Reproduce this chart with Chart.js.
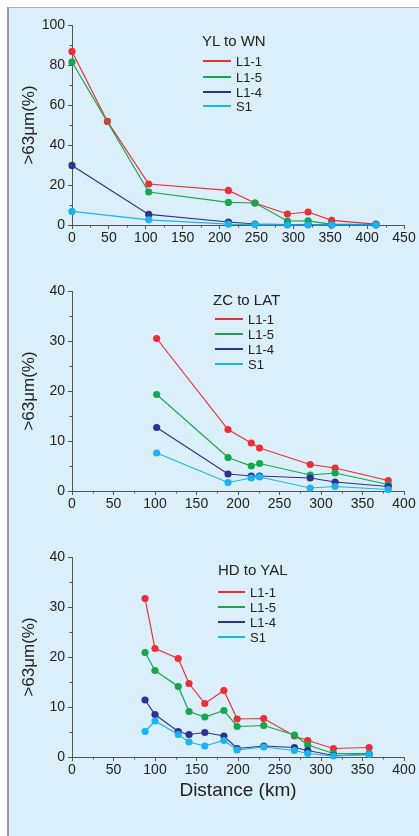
<!DOCTYPE html>
<html>
<head>
<meta charset="utf-8">
<script src="https://cdn.jsdelivr.net/npm/chart.js@4.4.1/dist/chart.umd.min.js"></script>
<style>
  body { margin: 0; width: 419px; height: 836px; background: #fff; position: relative; overflow: hidden; font-family: "Liberation Sans", Arial, sans-serif; }
  .frame { position: absolute; left: 7px; top: 7px; right: 0; bottom: 0; background: #dbeffa; border-left: 2px solid #9c9c9c; border-top: 1px solid #b0b0b0; }
  canvas { position: absolute; left: 0; }
  .legend { position: absolute; color: #222; }
  .legend .ttl { position: absolute; font-size: 15px; white-space: nowrap; transform: translateY(-50%); }
  .legend .row { position: absolute; white-space: nowrap; font-size: 13px; transform: translateY(-50%); }
  .legend .swatch { position: absolute; height: 2px; }
</style>
</head>
<body>
<div class="frame"></div>
<canvas id="c1" style="top:0px" width="419" height="255"></canvas>
<canvas id="c2" style="top:266px" width="419" height="255"></canvas>
<canvas id="c3" style="top:532px" width="419" height="300"></canvas>
<div id="legends"></div>
<script>
// series names and colours
const seriesNames = ["L1-1", "L1-5", "L1-4", "S1"];
const seriesColors = ["#ec2f36", "#17a64c", "#2e3192", "#1bb4ec"];

// YL to WN
const ylDist = [0, 48, 104, 212, 248, 292, 320, 352, 412];
const ylL11 = [86.8, 51.8, 20.5, 17.3, 11.0, 5.5, 6.5, 2.3, 0.4];
const ylL15 = [81.5, null, 16.5, 11.3, 11.0, 2.0, 2.1, 0.3, 0.3];
const ylL14 = [29.8, null, 5.3, 1.5, 0.5, 0.2, 0.2, 0.1, 0.1];
const ylS1 = [6.8, null, 2.6, 0.4, 0.2, 0.1, 0.1, 0.1, 0.1];

// ZC to LAT
const zcDist = [102, 188, 216, 226, 287, 317, 381];
const zcL11 = [30.5, 12.3, 9.6, 8.6, 5.3, 4.6, 2.1];
const zcL15 = [19.3, 6.7, 5.0, 5.5, 3.2, 3.6, 1.3];
const zcL14 = [12.7, 3.4, 3.0, 3.0, 2.6, 1.8, 0.9];
const zcS1 = [7.6, 1.7, 2.6, 2.8, 0.6, 0.9, 0.3];

// HD to YAL
const hdDist = [88, 100, 128, 141, 160, 183, 199, 231, 268, 284, 315, 358];
const hdL11 = [31.7, 21.7, 19.7, 14.7, 10.7, 13.3, 7.6, 7.7, 4.2, 3.3, 1.7, 1.9];
const hdL15 = [20.9, 17.3, 14.1, 9.1, 8.0, 9.3, 6.1, 6.3, 4.4, 2.4, 0.7, 0.7];
const hdL14 = [11.4, 8.5, 5.1, 4.5, 4.9, 4.2, 1.7, 2.2, 1.9, 1.3, 0.3, 0.5];
const hdS1 = [5.1, 7.2, 4.5, 3.0, 2.2, 3.3, 1.4, 2.0, 1.3, 0.7, 0.2, 0.5];

Chart.defaults.font.family = '"Liberation Sans", Arial, sans-serif';
Chart.defaults.color = "#222";

// short in-between ticks on both axes
const minorTicks = {
  id: "minorTicks",
  afterDraw(chart, args, opts) {
    const ctx = chart.ctx;
    const xs = chart.scales.x, ys = chart.scales.y;
    ctx.save();
    ctx.strokeStyle = "#555";
    ctx.lineWidth = 1;
    ctx.beginPath();
    for (let v = xs.min; v <= xs.max; v += opts.x) {
      if (v % opts.xMajor === 0) continue;
      const px = Math.round(xs.getPixelForValue(v)) + 0.5;
      ctx.moveTo(px, xs.top);
      ctx.lineTo(px, xs.top + 2.5);
    }
    for (let v = ys.min; v <= ys.max; v += opts.y) {
      if (v % opts.yMajor === 0) continue;
      const py = Math.round(ys.getPixelForValue(v)) + 0.5;
      ctx.moveTo(ys.right, py);
      ctx.lineTo(ys.right - 2.5, py);
    }
    ctx.stroke();
    ctx.restore();
  }
};

function makeSet(dist, vals, i) {
  const pts = [];
  for (let k = 0; k < dist.length; k++) {
    if (vals[k] !== null) pts.push({ x: dist[k], y: vals[k] });
  }
  return {
    label: seriesNames[i],
    data: pts,
    borderColor: seriesColors[i],
    backgroundColor: seriesColors[i],
    borderWidth: 1.2,
    pointRadius: 3.6,
    pointBorderWidth: 0,
    pointHoverRadius: 3.6,
    clip: false,
    order: 3 - i
  };
}

function makeChart(id, dist, series, xMax, yMax, yStep, xTitle, xAxisHeight) {
  return new Chart(document.getElementById(id), {
    type: "line",
    data: { datasets: series.map((s, i) => makeSet(dist, s, i)) },
    options: {
      responsive: false,
      animation: false,
      layout: { padding: { top: 25, right: 15, left: 0, bottom: 0 } },
      plugins: {
        legend: { display: false },
        tooltip: { enabled: false },
        minorTicks: { x: 25, xMajor: 50, y: yStep / 2, yMajor: yStep }
      },
      scales: {
        x: {
          type: "linear",
          min: 0,
          max: xMax,
          afterFit: (s) => { s.height = xAxisHeight; },
          ticks: { stepSize: 50, font: { size: 14 }, padding: 1, maxRotation: 0, color: "#222" },
          grid: { drawOnChartArea: false, drawTicks: true, tickLength: 4, tickColor: "#555" },
          border: { color: "#555", width: 1 },
          title: {
            display: !!xTitle,
            text: xTitle || "",
            font: { size: 19 },
            color: "#222",
            padding: { top: 0, bottom: 30 }
          }
        },
        y: {
          min: 0,
          max: yMax,
          afterFit: (s) => { s.width = 72; },
          ticks: { stepSize: yStep, font: { size: 14 }, padding: 3, color: "#222" },
          grid: { drawOnChartArea: false, drawTicks: true, tickLength: 4, tickColor: "#555" },
          border: { color: "#555", width: 1 },
          title: {
            display: true,
            text: ">63\u03bcm(%)",
            font: { size: 17 },
            color: "#222",
            padding: { top: 19, bottom: 0 }
          }
        }
      }
    },
    plugins: [minorTicks]
  });
}

makeChart("c1", ylDist, [ylL11, ylL15, ylL14, ylS1], 450, 100, 20, null, 30);
makeChart("c2", zcDist, [zcL11, zcL15, zcL14, zcS1], 400, 40, 10, null, 30);
makeChart("c3", hdDist, [hdL11, hdL15, hdL14, hdS1], 400, 40, 10, "Distance (km)", 75);

// legends drawn as html text, laid over each plot
const legendSpecs = [
  { title: "YL to WN", x: 202, titleY: 40, rows: [61, 77, 92, 106], lineX: 203, lineW: 28, textX: 236 },
  { title: "ZC to LAT", x: 213, titleY: 299, rows: [319, 334, 349, 364], lineX: 215, lineW: 28, textX: 248 },
  { title: "HD to YAL", x: 218, titleY: 569, rows: [592, 607, 622, 637], lineX: 218, lineW: 27, textX: 250 }
];
const holder = document.getElementById("legends");
legendSpecs.forEach((spec) => {
  const box = document.createElement("div");
  box.className = "legend";
  box.style.left = "0px";
  box.style.top = "0px";
  const t = document.createElement("div");
  t.className = "ttl";
  t.style.left = spec.x + "px";
  t.style.top = spec.titleY + "px";
  t.textContent = spec.title;
  box.appendChild(t);
  seriesNames.forEach((name, i) => {
    const sw = document.createElement("div");
    sw.className = "swatch";
    sw.style.left = spec.lineX + "px";
    sw.style.top = (spec.rows[i] - 1) + "px";
    sw.style.width = spec.lineW + "px";
    sw.style.background = seriesColors[i];
    box.appendChild(sw);
    const lb = document.createElement("div");
    lb.className = "row";
    lb.style.left = spec.textX + "px";
    lb.style.top = spec.rows[i] + "px";
    lb.textContent = name;
    box.appendChild(lb);
  });
  holder.appendChild(box);
});
</script>
</body>
</html>
